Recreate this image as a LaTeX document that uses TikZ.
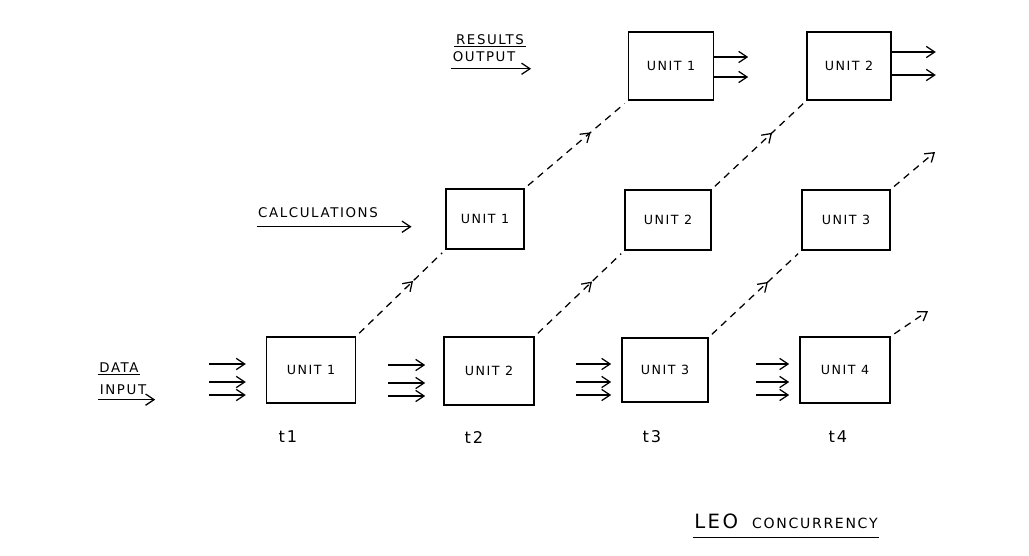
\documentclass[tikz,border=0pt]{standalone}
\usepackage{fontspec}
\newfontfamily\hand[LetterSpace=12]{DejaVu Sans}
\usetikzlibrary{arrows.meta,decorations.markings}
\tikzset{
  unit/.style={draw, line width=1.1pt, inner sep=0pt, minimum width=2.22cm,
    minimum height=1.65cm, font=\hand\fontsize{9}{11}\selectfont},
  midrow/.style={unit, minimum width=2.15cm, minimum height=1.5cm},
  toprow/.style={unit, minimum width=2.12cm, minimum height=1.7cm},
  lbl/.style={inner sep=1pt, font=\hand\fontsize{9.5}{11}\selectfont},
  arr/.style={line width=0.9pt, -{Straight Barb[length=6pt,width=8pt]}},
  pass/.style={line width=0.9pt, dash pattern=on 5pt off 4pt,
    shorten <=3pt, shorten >=3pt, postaction={decorate},
    decoration={markings, mark=at position 0.64 with
      {\arrow{Straight Barb[length=6pt,width=8pt]}}}},
  passout/.style={line width=0.9pt, dash pattern=on 5pt off 4pt,
    shorten <=3pt, -{Straight Barb[length=6pt,width=8pt]}},
}
\begin{document}
\begin{tikzpicture}[x=0.025cm, y=-0.025cm]
  \useasboundingbox (0,0) rectangle (1029,556);
  % data input
  \node[unit] (b1) at (311,370) {UNIT 1};
  \node[unit, minimum width=2.25cm, minimum height=1.7cm] (b2) at (489,371) {UNIT 2};
  \node[unit, minimum width=2.15cm, minimum height=1.6cm] (b3) at (665,370) {UNIT 3};
  \node[unit, minimum width=2.25cm] (b4) at (845,370) {UNIT 4};
  % calculations
  \node[midrow, minimum width=1.95cm] (m1) at (485,219) {UNIT 1};
  \node[midrow] (m2) at (668,220) {UNIT 2};
  \node[midrow, minimum width=2.2cm] (m3) at (846,220) {UNIT 3};
  % results output
  \node[toprow] (r1) at (671,66) {UNIT 1};
  \node[toprow, minimum width=2.1cm] (r2) at (849,66) {UNIT 2};
  \coordinate (m3out) at (935,152);
  \coordinate (b4out) at (928,311);

  % row labels
  \node[lbl] (data) at (119,368) {DATA};
  \node[lbl] (input) at (123,390) {INPUT};
  \draw[line width=0.9pt] (data.south west) -- (data.south east);
  \draw[arr] ([shift={(0,3)}]input.south west) -- +(57,0);
  \node[lbl] (calc) at (318,213) {CALCULATIONS};
  \draw[arr] ([shift={(0,7)}]calc.south west) -- +(155,0);
  \node[lbl] (res) at (490,40) {RESULTS};
  \node[lbl] (outp) at (484,57) {OUTPUT};
  \draw[line width=0.9pt] (res.south west) -- (res.south east);
  \draw[arr] ([shift={(0,5)}]outp.south west) -- +(80,0);

  % inputs
  \foreach \n/\a/\l in {b1/-57/37, b2/-55/37, b3/-45/35, b4/-43/33}
    \foreach \y in {-6,12,25}
      \draw[arr] ([shift={(\a,\y)}]\n.west) -- +(\l,0);

  % outputs
  \draw[arr] ([shift={(0,-9)}]r1.east) -- +(34,0);
  \draw[arr] ([shift={(0,11)}]r1.east) -- +(34,0);
  \draw[arr] ([shift={(0,-14)}]r2.east) -- +(44,0);
  \draw[arr] ([shift={(0,9)}]r2.east) -- +(44,0);

  % passing on
  \draw[pass] (b1.north east) -- (m1.south west);
  \draw[pass] (b2.north east) -- (m2.south west);
  \draw[pass] (b3.north east) -- (m3.south west);
  \draw[pass] (m1.north east) -- (r1.south west);
  \draw[pass] (m2.north east) -- (r2.south west);
  \draw[passout] (m3.north east) -- (m3out);
  \draw[passout] (b4.north east) -- (b4out);

  % time steps
  \node[lbl, font=\hand\fontsize{11.5}{13}\selectfont] (t1) at (288,437) {t1};
  \node[lbl, font=\hand\fontsize{11.5}{13}\selectfont] (t2) at (474,437) {t2};
  \node[lbl, font=\hand\fontsize{11.5}{13}\selectfont] (t3) at (652,437) {t3};
  \node[lbl, font=\hand\fontsize{11.5}{13}\selectfont] (t4) at (838,437) {t4};

  % title
  \node[lbl, font=\hand\fontsize{10}{12}\selectfont] (title) at (786,521)
    {{\fontsize{14}{16}\selectfont LEO}\quad CONCURRENCY};
  \draw[line width=0.9pt] ([shift={(0,7)}]title.south west) -- ([shift={(0,7)}]title.south east);
\end{tikzpicture}
\end{document}
